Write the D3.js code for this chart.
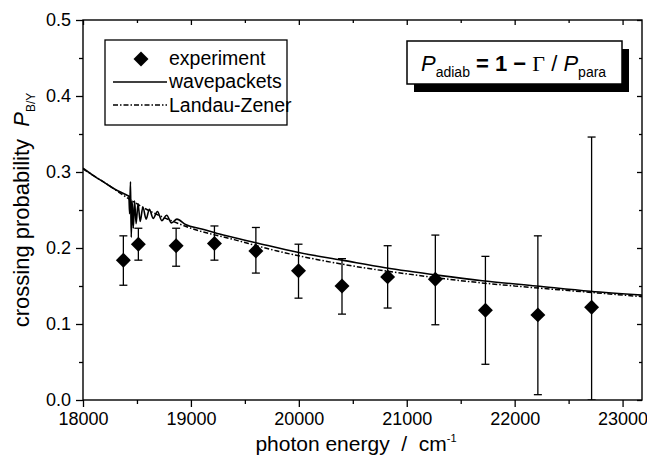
<!DOCTYPE html>
<html><head><meta charset="utf-8">
<script src="https://cdn.jsdelivr.net/npm/d3@7"></script>
<style>
html,body{margin:0;padding:0;background:#fff;}
svg text{font-family:"Liberation Sans",Arial,Helvetica,sans-serif;fill:#000;}
</style></head>
<body>
<svg id="chart" width="647" height="466"></svg>
<script>
// ---- data ----
const expEnergy = [18374, 18513, 18863, 19218, 19602, 19997, 20400, 20823, 21265, 21729, 22215, 22713];
const expProb   = [0.184, 0.205, 0.203, 0.206, 0.196, 0.170, 0.150, 0.162, 0.159, 0.118, 0.112, 0.122];
const expHigh   = [0.216, 0.226, 0.226, 0.229, 0.227, 0.205, 0.186, 0.203, 0.217, 0.189, 0.216, 0.346];
const expLow    = [0.151, 0.184, 0.176, 0.184, 0.167, 0.134, 0.113, 0.121, 0.099, 0.047, 0.007, 0.000];

const wpEnergy = [18000, 18100, 18200, 18300, 18400, 18425, 18432, 18440, 18447, 18455, 18466, 18478, 18492, 18510, 18530, 18555, 18585, 18615, 18650, 18690, 18730, 18775, 18820, 18870, 18950, 19100, 19300, 19600, 20000, 20400, 20800, 21300, 21700, 22200, 22700, 23180];
const wpProb   = [0.305, 0.295, 0.286, 0.277, 0.270, 0.268, 0.245, 0.287, 0.214, 0.262, 0.226, 0.262, 0.232, 0.258, 0.235, 0.254, 0.238, 0.251, 0.239, 0.248, 0.236, 0.243, 0.233, 0.238, 0.231, 0.225, 0.217, 0.207, 0.194, 0.184, 0.174, 0.164, 0.157, 0.150, 0.143, 0.138];

const lzEnergy = [18000, 18200, 18400, 18600, 18800, 19000, 19400, 19800, 20200, 20600, 21000, 21500, 22000, 22500, 23180];
const lzProb   = [0.304, 0.286, 0.267, 0.250, 0.237, 0.226, 0.211, 0.196, 0.184, 0.174, 0.166, 0.157, 0.150, 0.144, 0.136];

const xMajor = [18000, 19000, 20000, 21000, 22000, 23000];
const xMinor = [18500, 19500, 20500, 21500, 22500];
const yMajor = [0.0, 0.1, 0.2, 0.3, 0.4, 0.5];
const yMinor = [0.05, 0.15, 0.25, 0.35, 0.45];
const legendLabels = ["experiment", "wavepackets", "Landau-Zener"];

// ---- layout ----
const L = 83, R = 642, T = 20, B = 400;
const x = d3.scaleLinear().domain([18000, 23180]).range([L, R]);
const y = d3.scaleLinear().domain([0, 0.5]).range([B, T]);
const svg = d3.select("#chart");

svg.append("defs").append("clipPath").attr("id","clip")
  .append("rect").attr("x",L).attr("y",T).attr("width",R-L).attr("height",B-T);

// axes
const fmtY = d3.format(".1f");
svg.append("g").attr("transform",`translate(0,${B})`)
  .call(d3.axisBottom(x).tickValues(xMajor).tickSize(7).tickPadding(5).tickFormat(d3.format("d")));
svg.append("g").attr("transform",`translate(0,${B})`)
  .call(d3.axisBottom(x).tickValues(xMinor).tickSize(4).tickFormat(""));
svg.append("g").attr("transform",`translate(${L},0)`)
  .call(d3.axisLeft(y).tickValues(yMajor).tickSize(7).tickPadding(5).tickFormat(fmtY));
svg.append("g").attr("transform",`translate(${L},0)`)
  .call(d3.axisLeft(y).tickValues(yMinor).tickSize(4).tickFormat(""));
// mirrored inward ticks
svg.append("g").attr("transform",`translate(0,${T})`)
  .call(d3.axisTop(x).tickValues(xMajor).tickSize(-5).tickFormat(""));
svg.append("g").attr("transform",`translate(0,${T})`)
  .call(d3.axisTop(x).tickValues(xMinor).tickSize(-3).tickFormat(""));
svg.append("g").attr("transform",`translate(${R},0)`)
  .call(d3.axisRight(y).tickValues(yMajor).tickSize(-5).tickFormat(""));
svg.append("g").attr("transform",`translate(${R},0)`)
  .call(d3.axisRight(y).tickValues(yMinor).tickSize(-3).tickFormat(""));
svg.selectAll(".domain").remove();
svg.selectAll(".tick line").attr("stroke","#000").attr("stroke-width",1.3);
svg.selectAll(".tick text").attr("font-size",18).attr("fill","#000")
  .attr("font-family",'"Liberation Sans",Arial,sans-serif');
svg.append("rect").attr("x",L).attr("y",T).attr("width",R-L).attr("height",B-T)
  .attr("fill","none").attr("stroke","#000").attr("stroke-width",1.4);

// curves
const plot = svg.append("g").attr("clip-path","url(#clip)");
const lineGen = d3.line().x(d=>x(d[0])).y(d=>y(d[1])).curve(d3.curveMonotoneX);
plot.append("path").datum(lzEnergy.map((e,i)=>[e,lzProb[i]]))
  .attr("d",lineGen).attr("fill","none").attr("stroke","#000").attr("stroke-width",1.5)
  .attr("stroke-dasharray","5,2,1.5,2");
plot.append("path").datum(wpEnergy.map((e,i)=>[e,wpProb[i]]))
  .attr("d",lineGen).attr("fill","none").attr("stroke","#000").attr("stroke-width",1.6);

// error bars
const eg = plot.append("g").attr("stroke","#000").attr("stroke-width",1.3);
expEnergy.forEach((e,i)=>{
  const cx = x(e);
  eg.append("line").attr("x1",cx).attr("x2",cx).attr("y1",y(expHigh[i])).attr("y2",y(expLow[i]));
  eg.append("line").attr("x1",cx-4).attr("x2",cx+4).attr("y1",y(expHigh[i])).attr("y2",y(expHigh[i]));
  eg.append("line").attr("x1",cx-4).attr("x2",cx+4).attr("y1",y(expLow[i])).attr("y2",y(expLow[i]));
});
const diamond = d3.symbol().type(d3.symbolSquare).size(112);
plot.selectAll(".pt").data(expEnergy).enter().append("path")
  .attr("d",diamond())
  .attr("transform",(d,i)=>`translate(${x(d)},${y(expProb[i])}) rotate(45)`)
  .attr("fill","#000");

// axis titles
svg.append("text").attr("x",356).attr("y",451).attr("text-anchor","middle").attr("font-size",21)
  .html('photon energy &#160;/&#160; cm<tspan dy="-9" font-size="11">-1</tspan>');
svg.append("text").attr("transform","translate(29,210) rotate(-90)").attr("text-anchor","middle")
  .attr("font-size",22)
  .html('crossing probability &#160;<tspan font-style="italic">P</tspan><tspan dy="6" font-size="12">B/Y</tspan>');

// legend
const lg = svg.append("g");
lg.append("rect").attr("x",105).attr("y",40).attr("width",182).attr("height",85)
  .attr("fill","#fff").attr("stroke","#000").attr("stroke-width",1.3);
lg.append("path").attr("d",diamond()).attr("transform","translate(141,59) rotate(45)").attr("fill","#000");
lg.append("line").attr("x1",113).attr("x2",167).attr("y1",82).attr("y2",82).attr("stroke","#000").attr("stroke-width",1.5);
lg.append("line").attr("x1",113).attr("x2",167).attr("y1",105).attr("y2",105).attr("stroke","#000").attr("stroke-width",1.3)
  .attr("stroke-dasharray","5,2,1.5,2");
legendLabels.forEach((t,i)=>{
  lg.append("text").attr("x",169).attr("y",65+i*23.3).attr("font-size",19.5).text(t);
});

// formula box
const fb = svg.append("g");
fb.append("rect").attr("x",414).attr("y",49).attr("width",215).attr("height",43).attr("fill","#000");
fb.append("rect").attr("x",407).attr("y",41).attr("width",215).attr("height",43)
  .attr("fill","#fff").attr("stroke","#000").attr("stroke-width",1.5);
const ft = fb.append("text").attr("x",421).attr("y",71).attr("font-size",22);
ft.html('<tspan font-style="italic">P</tspan><tspan dy="6" font-size="14">adiab</tspan>' +
  '<tspan dy="-6" font-weight="bold"> = 1 &#8722; </tspan>' +
  '<tspan font-family="Liberation Serif,Times New Roman,serif">&#915;</tspan>' +
  '<tspan> / </tspan><tspan font-style="italic">P</tspan><tspan dy="6" font-size="14">para</tspan>');
</script>
</body></html>
